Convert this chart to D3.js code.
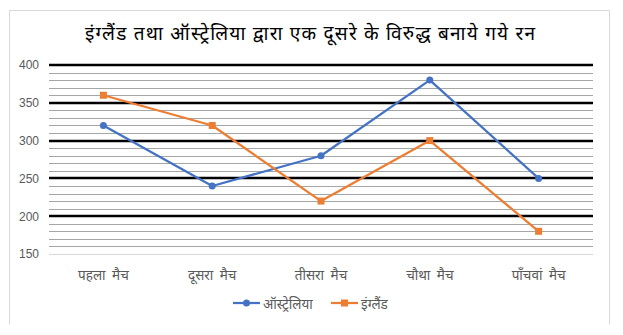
<!DOCTYPE html>
<html>
<head>
<meta charset="utf-8">
<script src="https://cdn.jsdelivr.net/npm/d3@7"></script>
<style>
  html, body { margin: 0; padding: 0; background: #fff; }
  svg { display: block; }
</style>
</head>
<body>
<svg id="chart" width="623" height="335"></svg>
<script>
// Runs scored by each side across the five matches
const categories = ["पहला मैच", "दूसरा मैच", "तीसरा मैच", "चौथा मैच", "पाँचवां मैच"];
const australia = [320, 240, 280, 380, 250];
const england = [360, 320, 220, 300, 180];
const yTicks = [150, 200, 250, 300, 350, 400];
const seriesNames = ["ऑस्ट्रेलिया", "इंग्लैंड"];
const title = "इंग्लैंड तथा ऑस्ट्रेलिया द्वारा एक दूसरे के विरुद्ध बनाये गये रन";

const W = 623, H = 335;
const margin = { left: 49, right: 30, top: 65, bottom: 81 };
const svg = d3.select("#chart");
const font = "'Noto Sans', 'Noto Sans Devanagari', 'Lohit Devanagari', sans-serif";

// Chart frame (left, top, right edges)
svg.append("path")
  .attr("d", "M9.5,324.5 V10.5 H609.5 V324.5")
  .attr("fill", "none").attr("stroke", "#d9d9d9").attr("stroke-width", 1);

const x = d3.scaleBand()
  .domain(categories)
  .range([margin.left, W - margin.right])
  .padding(0);

const y = d3.scaleLinear()
  .domain([150, 400])
  .range([H - margin.bottom, margin.top]);

// Minor gridlines every 10
const minor = d3.range(160, 400, 10).filter(v => v % 50 !== 0);
svg.append("g").selectAll("line").data(minor).join("line")
  .attr("x1", margin.left).attr("x2", W - margin.right)
  .attr("y1", d => Math.round(y(d)) + 0.5).attr("y2", d => Math.round(y(d)) + 0.5)
  .attr("stroke", "#a6a6a6").attr("stroke-width", 1);

// Major gridlines every 50
svg.append("g").selectAll("line").data(yTicks.filter(v => v > 150)).join("line")
  .attr("x1", margin.left).attr("x2", W - margin.right)
  .attr("y1", d => Math.round(y(d))).attr("y2", d => Math.round(y(d)))
  .attr("stroke", "#000").attr("stroke-width", 2.5);

// Category axis line
svg.append("line")
  .attr("x1", margin.left).attr("x2", W - margin.right)
  .attr("y1", Math.round(y(150)) + 0.5).attr("y2", Math.round(y(150)) + 0.5)
  .attr("stroke", "#d9d9d9").attr("stroke-width", 1);

// Y axis labels
const yAxis = d3.axisLeft(y).tickValues(yTicks).tickSize(0).tickPadding(10);
const gy = svg.append("g").attr("transform", `translate(${margin.left},0)`).call(yAxis);
gy.select(".domain").remove();
gy.selectAll("text")
  .attr("fill", "#595959")
  .style("font-family", "'Liberation Sans', Arial, sans-serif")
  .style("font-size", "12px");

// X axis labels
const xAxis = d3.axisBottom(x).tickSize(0).tickPadding(0);
const gx = svg.append("g").attr("transform", `translate(0,${H - margin.bottom + 16})`).call(xAxis);
gx.select(".domain").remove();
gx.selectAll("text")
  .attr("fill", "#595959")
  .style("font-family", font)
  .style("font-size", "13.5px")
  .style("word-spacing", "3px");

const cx = d => x(d) + x.bandwidth() / 2;
const line = d3.line().x((d, i) => cx(categories[i])).y(d => y(d));

const blue = "#4472c4", orange = "#ed7d31";

// Australia series
svg.append("path").datum(australia)
  .attr("d", line).attr("fill", "none")
  .attr("stroke", blue).attr("stroke-width", 2.25).attr("stroke-linejoin", "round");
svg.append("g").selectAll("circle").data(australia).join("circle")
  .attr("cx", (d, i) => cx(categories[i])).attr("cy", d => y(d))
  .attr("r", 3.5).attr("fill", blue);

// England series
svg.append("path").datum(england)
  .attr("d", line).attr("fill", "none")
  .attr("stroke", orange).attr("stroke-width", 2.25).attr("stroke-linejoin", "round");
svg.append("g").selectAll("rect").data(england).join("rect")
  .attr("x", (d, i) => cx(categories[i]) - 3.5).attr("y", d => y(d) - 3.5)
  .attr("width", 7).attr("height", 7).attr("fill", orange);

// Title
svg.append("text")
  .attr("x", 85).attr("y", 40)
  .attr("textLength", 450).attr("lengthAdjust", "spacing")
  .attr("fill", "#000")
  .style("font-family", font)
  .style("font-size", "19px")
  .text(title);

// Legend
const legend = svg.append("g").attr("transform", "translate(0,303)");
const items = [
  { name: seriesNames[0], color: blue, shape: "circle", x0: 233 },
  { name: seriesNames[1], color: orange, shape: "square", x0: 331 }
];
items.forEach(it => {
  const g = legend.append("g");
  g.append("line").attr("x1", it.x0).attr("x2", it.x0 + 27)
    .attr("y1", 0).attr("y2", 0).attr("stroke", it.color).attr("stroke-width", 2.25);
  if (it.shape === "circle") {
    g.append("circle").attr("cx", it.x0 + 13.5).attr("cy", 0).attr("r", 3.5).attr("fill", it.color);
  } else {
    g.append("rect").attr("x", it.x0 + 10).attr("y", -3.5).attr("width", 7).attr("height", 7).attr("fill", it.color);
  }
  g.append("text").attr("x", it.x0 + 30).attr("y", 6)
    .attr("fill", "#595959")
    .style("font-family", font).style("font-size", "13.5px")
    .text(it.name);
});
</script>
</body>
</html>
